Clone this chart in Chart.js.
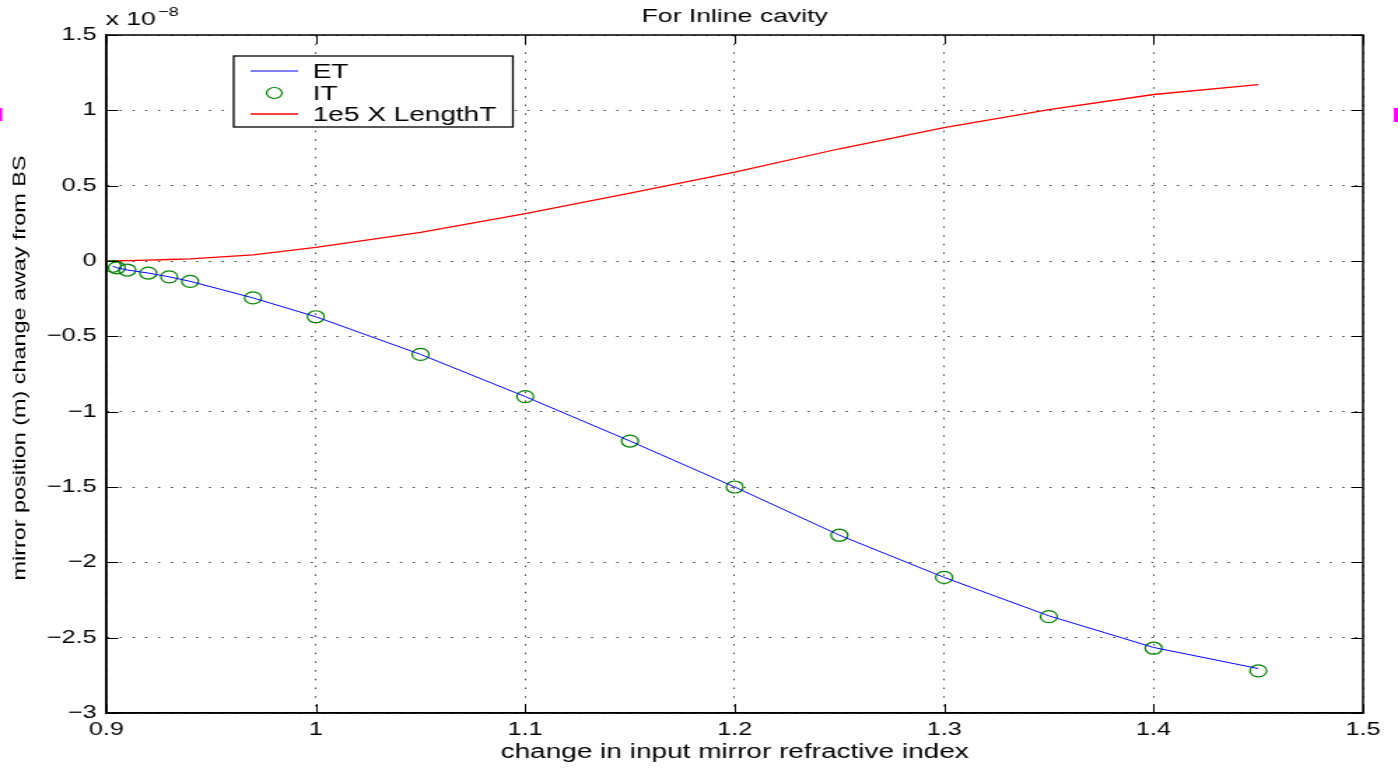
<!DOCTYPE html>
<html>
<head>
<meta charset="utf-8">
<script src="https://cdn.jsdelivr.net/npm/chart.js@4/dist/chart.umd.min.js"></script>
<style>
  html, body { margin: 0; padding: 0; background: #fff; overflow: hidden; }
  #wrap { width: 1398px; height: 769px; }
  /* the source figure is a stretched matlab plot, so draw narrow and stretch */
  #chart { display: block; transform: scaleX(1.3994); transform-origin: 0 0; }
</style>
</head>
<body>
<div id="wrap"><canvas id="chart" width="999" height="769"></canvas></div>
<script>
// === DATA (y values in units of 1e-8 m) ===
const xValues = [0.903, 0.905, 0.91, 0.92, 0.93, 0.94, 0.97, 1.0, 1.05, 1.1, 1.15, 1.2, 1.25, 1.3, 1.35, 1.4, 1.45];
const etValues = [-0.035, -0.045, -0.06, -0.08, -0.105, -0.135, -0.245, -0.37, -0.62, -0.90, -1.195, -1.50, -1.82, -2.10, -2.355, -2.565, -2.705];
const itValues = [-0.035, -0.045, -0.06, -0.08, -0.105, -0.135, -0.245, -0.37, -0.62, -0.90, -1.195, -1.50, -1.82, -2.10, -2.36, -2.57, -2.72];
const lengthX = [0.9, 0.91, 0.92, 0.93, 0.94, 0.97, 1.0, 1.05, 1.1, 1.15, 1.2, 1.25, 1.3, 1.35, 1.4, 1.45];
const lengthValues = [0, 0.003, 0.006, 0.01, 0.014, 0.04, 0.09, 0.19, 0.315, 0.45, 0.59, 0.745, 0.885, 1.005, 1.105, 1.17];
const seriesLabels = ['ET', 'IT', '1e5 X LengthT'];
const xTicks = { min: 0.9, max: 1.5, step: 0.1 };
const yTicks = { min: -3, max: 1.5, step: 0.5 };
const titleText = 'For Inline cavity';
const xTitle = 'change in input mirror refractive index';
const yTitle = 'mirror position (m) change away from BS';

const FONT = '"Liberation Sans", Arial, Helvetica, sans-serif';

function pairs(xs, ys) {
  return xs.map((x, i) => ({ x: x, y: ys[i] }));
}

function fmtMinus(v) {
  const r = Math.round(v * 10) / 10;
  return (r < 0 ? '\u2212' : '') + Math.abs(r);
}

// matlab-like decorations: frame, inside ticks, legend box, texts
const matlabDecor = {
  id: 'matlabDecor',
  afterDraw(chart) {
    const ctx = chart.ctx;
    const a = chart.chartArea;
    const xs = chart.scales.x, ys = chart.scales.y;
    ctx.save();

    // inside tick marks on all four sides
    ctx.strokeStyle = '#000';
    ctx.lineWidth = 1;
    ctx.beginPath();
    xs.ticks.forEach(t => {
      const px = Math.round(xs.getPixelForValue(t.value)) + 0.5;
      ctx.moveTo(px, a.bottom); ctx.lineTo(px, a.bottom - 9);
      ctx.moveTo(px, a.top); ctx.lineTo(px, a.top + 9);
    });
    ys.ticks.forEach(t => {
      const py = Math.round(ys.getPixelForValue(t.value)) + 0.5;
      ctx.moveTo(a.left, py); ctx.lineTo(a.left + 8.5, py);
      ctx.moveTo(a.right, py); ctx.lineTo(a.right - 8.5, py);
    });
    ctx.stroke();

    // frame
    ctx.lineWidth = 1.5;
    ctx.strokeRect(a.left, a.top, a.right - a.left, a.bottom - a.top);

    // title
    ctx.fillStyle = '#000';
    ctx.font = '19px ' + FONT;
    ctx.textAlign = 'center';
    ctx.textBaseline = 'alphabetic';
    ctx.fillText(titleText, (a.left + a.right) / 2, 22);

    // exponent label
    ctx.textAlign = 'left';
    ctx.font = '19px ' + FONT;
    ctx.fillText('x 10', a.left - 0.5, 25);
    ctx.font = '13px ' + FONT;
    ctx.fillText('\u22128', a.left + 37, 16);

    // y axis title, squeezed like the original
    ctx.save();
    ctx.translate(14.5, (a.top + a.bottom) / 2 - 6);
    ctx.rotate(-Math.PI / 2);
    ctx.font = '20px ' + FONT;
    const w = ctx.measureText(yTitle).width;
    ctx.scale(425 / w, 0.68);
    ctx.textAlign = 'center';
    ctx.textBaseline = 'middle';
    ctx.fillText(yTitle, 0, 0);
    ctx.restore();

    // legend
    const box = { x: 167, y: 56, w: 199.5, h: 71 };
    ctx.fillStyle = '#fff';
    ctx.fillRect(box.x, box.y, box.w, box.h);
    ctx.lineWidth = 1.3;
    ctx.strokeStyle = '#000';
    ctx.strokeRect(box.x, box.y, box.w, box.h);
    const rows = [71, 93, 114];
    chart.data.datasets.forEach((ds, i) => {
      const y = rows[i];
      if (ds.showLine === false) {
        ctx.beginPath();
        ctx.strokeStyle = ds.pointBorderColor;
        ctx.lineWidth = 1.2;
        ctx.arc(196, y, 5.5, 0, Math.PI * 2);
        ctx.stroke();
      } else {
        ctx.beginPath();
        ctx.strokeStyle = ds.borderColor;
        ctx.lineWidth = ds.borderWidth;
        ctx.moveTo(179, y); ctx.lineTo(213, y);
        ctx.stroke();
      }
      ctx.fillStyle = '#000';
      ctx.font = '20px ' + FONT;
      ctx.textAlign = 'left';
      ctx.textBaseline = 'middle';
      ctx.fillText(ds.label, 223.5, y + 1);
    });

    // small magenta registration marks at the page edges
    ctx.fillStyle = '#ff00ff';
    ctx.fillRect(0, 108, 1.6, 13);
    ctx.fillRect(996, 108, 3, 14);

    ctx.restore();
  }
};

const ctx = document.getElementById('chart').getContext('2d');
const chart = new Chart(ctx, {
  type: 'scatter',
  data: {
    datasets: [
      {
        label: seriesLabels[0],
        data: pairs(xValues, etValues),
        showLine: true,
        borderColor: '#0000ff',
        borderWidth: 1,
        pointRadius: 0,
        tension: 0
      },
      {
        label: seriesLabels[1],
        data: pairs(xValues, itValues),
        showLine: false,
        pointStyle: 'circle',
        pointRadius: 6,
        pointBorderWidth: 1.2,
        pointBorderColor: '#008000',
        pointBackgroundColor: 'rgba(0,0,0,0)',
        borderColor: '#008000'
      },
      {
        label: seriesLabels[2],
        data: pairs(lengthX, lengthValues),
        showLine: true,
        borderColor: '#ff0000',
        borderWidth: 1.3,
        pointRadius: 0,
        tension: 0
      }
    ]
  },
  options: {
    responsive: false,
    animation: false,
    devicePixelRatio: 1,
    layout: { padding: { top: 35, right: 25, left: 0, bottom: 0 } },
    plugins: {
      legend: { display: false },
      title: { display: false },
      tooltip: { enabled: false }
    },
    scales: {
      x: {
        type: 'linear',
        min: xTicks.min,
        max: xTicks.max,
        afterFit: s => { s.height = 56; },
        ticks: {
          stepSize: xTicks.step,
          color: '#000',
          font: { family: FONT, size: 18 },
          padding: 6,
          maxRotation: 0,
          callback: v => fmtMinus(v)
        },
        grid: { color: 'rgba(0,0,0,0.75)', lineWidth: 1, drawTicks: false },
        border: { display: true, color: '#000', width: 1.5, dash: [1.5, 7.2] },
        title: {
          display: true,
          text: xTitle,
          color: '#000',
          font: { family: FONT, size: 20 },
          padding: { top: 0, bottom: 5 }
        }
      },
      y: {
        type: 'linear',
        min: yTicks.min,
        max: yTicks.max,
        afterFit: s => { s.width = 76; },
        ticks: {
          stepSize: yTicks.step,
          color: '#000',
          font: { family: FONT, size: 18 },
          padding: 7,
          callback: v => fmtMinus(v)
        },
        grid: { color: 'rgba(0,0,0,0.75)', lineWidth: 1, drawTicks: false },
        border: { display: true, color: '#000', width: 1.5, dash: [1.5, 7.6] }
      }
    }
  },
  plugins: [matlabDecor]
});
</script>
</body>
</html>
